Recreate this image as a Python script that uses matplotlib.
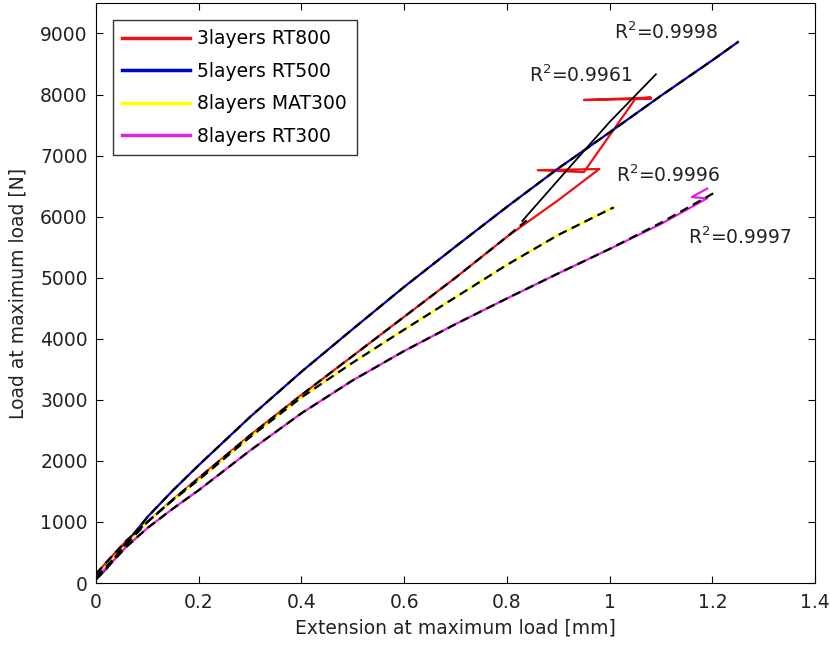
import matplotlib.pyplot as plt

plt.rcParams['font.family'] = ['DejaVu Sans']

# measured curves (extension [mm], load [N])
ext_rt800 = [0.0, 0.03, 0.06, 0.1, 0.15, 0.2, 0.3, 0.4, 0.5, 0.6, 0.7, 0.8, 0.9, 0.98,
             0.86, 0.95, 1.05, 1.08, 0.95, 1.08]
load_rt800 = [150, 430, 700, 1000, 1370, 1720, 2420, 3080, 3720, 4360, 5000, 5670, 6270, 6780,
              6760, 6730, 7930, 7950, 7910, 7930]

ext_rt500 = [0.0, 0.02, 0.05, 0.1, 0.15, 0.2, 0.3, 0.4, 0.5, 0.6, 0.7, 0.8, 0.9, 1.0, 1.1, 1.2, 1.25]
load_rt500 = [60, 230, 560, 1080, 1520, 1930, 2720, 3460, 4160, 4850, 5510, 6160, 6790, 7380,
              7980, 8560, 8860]

ext_mat300 = [0.0, 0.03, 0.06, 0.1, 0.15, 0.2, 0.3, 0.4, 0.5, 0.6, 0.7, 0.8, 0.9, 1.0, 1.008]
load_mat300 = [100, 360, 640, 1000, 1360, 1690, 2390, 3040, 3610, 4150, 4680, 5210, 5700, 6120, 6150]

ext_rt300 = [0.0, 0.03, 0.06, 0.1, 0.15, 0.2, 0.3, 0.4, 0.5, 0.6, 0.7, 0.8, 0.9, 1.0, 1.1, 1.19,
             1.16, 1.19]
load_rt300 = [80, 330, 600, 900, 1220, 1520, 2170, 2780, 3320, 3800, 4240, 4660, 5070, 5470,
              5880, 6300, 6320, 6460]

# fitted curves
fit_ext_rt800 = [0.0, 0.03, 0.06, 0.1, 0.15, 0.2, 0.3, 0.4, 0.5, 0.6, 0.7, 0.8, 0.84]
fit_load_rt800 = [150, 430, 700, 1000, 1370, 1720, 2420, 3080, 3720, 4360, 5000, 5670, 5950]
lin_ext_rt800 = [0.83, 0.9, 1.0, 1.09]
lin_load_rt800 = [5930, 6600, 7550, 8330]

fit_ext_rt300 = [0.0, 0.03, 0.06, 0.1, 0.15, 0.2, 0.3, 0.4, 0.5, 0.6, 0.7, 0.8, 0.9, 1.0,
                 1.1, 1.21]
fit_load_rt300 = [80, 330, 600, 900, 1220, 1520, 2170, 2780, 3320, 3800, 4240, 4660, 5070,
                  5470, 5900, 6420]

r2_labels = ['R$^2$=0.9998', 'R$^2$=0.9961', 'R$^2$=0.9996', 'R$^2$=0.9997']
r2_x = [1.008, 0.843, 1.012, 1.153]
r2_y = [9020, 8317, 6683, 5670]

fs = 13.5
fig = plt.figure(figsize=(8.3, 6.46), dpi=100)
ax = fig.add_axes([0.1157, 0.0975, 0.8663, 0.898])

lw = 1.6
dash = (4, 2.5)
ax.plot(ext_rt800, load_rt800, color='#ee1111', lw=lw, label='3layers RT800')
ax.plot(ext_rt500, load_rt500, color='#0000cc', lw=lw, label='5layers RT500')
ax.plot(ext_mat300, load_mat300, color='#ffff00', lw=lw, label='8layers MAT300')
ax.plot(ext_rt300, load_rt300, color='#e020e0', lw=lw, label='8layers RT300')

ax.plot(fit_ext_rt800, fit_load_rt800, color='black', lw=lw, dashes=dash)
ax.plot(lin_ext_rt800, lin_load_rt800, color='black', lw=1.3)
ax.plot(ext_rt500, load_rt500, color='black', lw=lw, dashes=dash)
ax.plot(ext_mat300, load_mat300, color='black', lw=lw, dashes=dash)
ax.plot(fit_ext_rt300, fit_load_rt300, color='black', lw=lw, dashes=dash)

for t, x, y in zip(r2_labels, r2_x, r2_y):
    ax.text(x, y, t, fontsize=fs, va='center', ha='left', color='#222222')

ax.set_xlim(0, 1.4)
ax.set_ylim(0, 9500)
ax.set_xticks([0, 0.2, 0.4, 0.6, 0.8, 1, 1.2, 1.4])
ax.set_xticklabels(['0', '0.2', '0.4', '0.6', '0.8', '1', '1.2', '1.4'])
ax.set_yticks(range(0, 9001, 1000))
ax.tick_params(direction='in', top=True, right=True, labelsize=fs, length=5,
               labelcolor='#222222')
ax.tick_params(axis='x', pad=7)
ax.tick_params(axis='y', pad=6)
ax.set_xlabel('Extension at maximum load [mm]', fontsize=fs, color='#222222', labelpad=5)
ax.set_ylabel('Load at maximum load [N]', fontsize=fs, color='#222222', labelpad=9)

leg = ax.legend(loc='upper left', bbox_to_anchor=(0.0236, 0.9707), borderaxespad=0,
                fontsize=fs, fancybox=False, edgecolor='black', handlelength=3.6,
                handletextpad=0.4, labelspacing=0.72, borderpad=0.5)
leg.get_frame().set_linewidth(1.0)
for h in leg.get_lines():
    h.set_linewidth(2.5)

fig.savefig('out.png', dpi=100)
